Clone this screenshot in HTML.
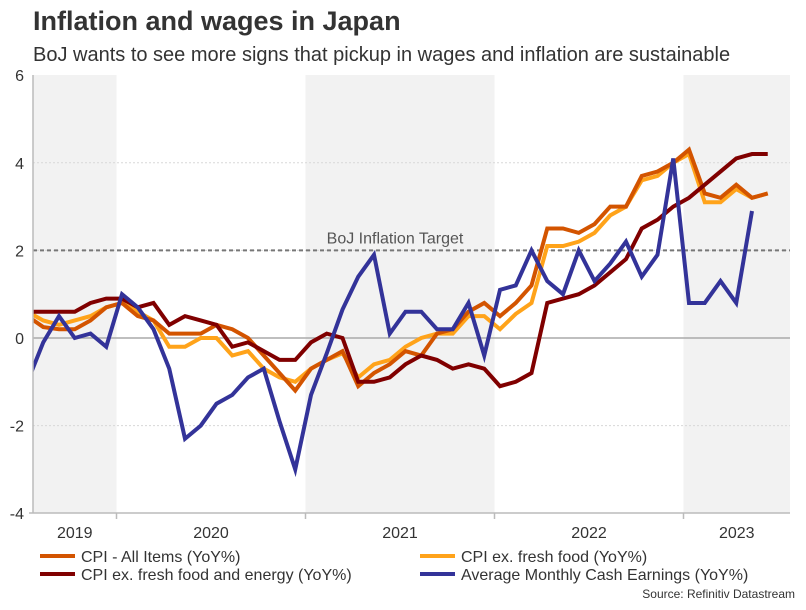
<!DOCTYPE html>
<html><head><meta charset="utf-8"><style>
body{margin:0;background:#fff;font-family:"Liberation Sans",sans-serif;}
svg text{font-family:"Liberation Sans",sans-serif;}
</style></head><body>
<svg id="chart" width="806" height="605" viewBox="0 0 806 605" xmlns="http://www.w3.org/2000/svg">
<text x="33" y="30" font-size="27" font-weight="bold" fill="#333">Inflation and wages in Japan</text>
<text x="33" y="61" font-size="20" fill="#333">BoJ wants to see more signs that pickup in wages and inflation are sustainable</text>
<g id="bands"></g>
<g id="grid"></g>
<g id="series"></g>
<g id="axes"></g>
<g id="legend"></g>
<text x="795" y="598" font-size="12" fill="#333" text-anchor="end">Source: Refinitiv Datastream</text>
</svg>
<script>
const cpiAll = [0.5,0.25,0.2,0.2,0.4,0.7,0.8,0.5,0.4,0.1,0.1,0.1,0.3,0.2,0.0,-0.4,-0.8,-1.2,-0.7,-0.5,-0.3,-1.1,-0.8,-0.6,-0.3,-0.4,0.1,0.2,0.6,0.8,0.5,0.8,1.2,2.5,2.5,2.4,2.6,3.0,3.0,3.7,3.8,4.0,4.3,3.3,3.2,3.5,3.2,3.3];
const cpiCore = [0.6,0.4,0.3,0.4,0.5,0.7,0.8,0.6,0.4,-0.2,-0.2,0.0,0.0,-0.4,-0.3,-0.7,-0.9,-1.0,-0.7,-0.5,-0.35,-0.9,-0.6,-0.5,-0.2,0.0,0.1,0.1,0.5,0.5,0.2,0.55,0.8,2.1,2.1,2.2,2.4,2.8,3.0,3.6,3.7,4.0,4.2,3.1,3.1,3.4,3.2,3.3];
const cpiCoreCore = [0.6,0.6,0.6,0.6,0.8,0.9,0.9,0.7,0.8,0.3,0.5,0.4,0.3,-0.2,-0.1,-0.3,-0.5,-0.5,-0.1,0.1,0.0,-1.0,-1.0,-0.9,-0.6,-0.4,-0.5,-0.7,-0.6,-0.7,-1.1,-1.0,-0.8,0.8,0.9,1.0,1.2,1.5,1.8,2.5,2.7,3.0,3.2,3.5,3.8,4.1,4.2,4.2];
const wages = [-1.0,-0.1,0.5,0.0,0.1,-0.2,1.0,0.7,0.2,-0.7,-2.3,-2.0,-1.5,-1.3,-0.9,-0.7,-1.9,-3.0,-1.3,-0.35,0.65,1.4,1.9,0.1,0.6,0.6,0.2,0.2,0.8,-0.4,1.1,1.2,2.0,1.3,1.0,2.0,1.3,1.7,2.2,1.4,1.9,4.1,0.8,0.8,1.3,0.8,2.9];
const yTicks = [-4,-2,0,2,4,6];
const yearLabels = ["2019","2020","2021","2022","2023"];
const yearStartIdx = [0,6,18,30,42];
const target = 2;

const NS="http://www.w3.org/2000/svg";
const L=33,R=790,T=75,B=513;
function X(i){return 27.5+15.75*i;}
function Y(v){return 338-v*43.8;}
function bx(i){return X(i)-5.5;}
function mk(tag,attrs,parent){const e=document.createElementNS(NS,tag);for(const k in attrs)e.setAttribute(k,attrs[k]);parent.appendChild(e);return e;}
const svg=document.getElementById('chart');
const defs=mk('defs',{},svg);
const cp=mk('clipPath',{id:'plotclip'},defs);
mk('rect',{x:L,y:T-5,width:R-L,height:B-T+10},cp);

const bands=document.getElementById('bands');
for(let k=0;k<yearStartIdx.length;k++){
  const x0=Math.max(L,bx(yearStartIdx[k]));
  const x1=k+1<yearStartIdx.length?bx(yearStartIdx[k+1]):R;
  if(k%2===0){
    const r=mk('rect',{x:x0,y:T,width:x1-x0,height:B-T,fill:'#f2f2f2'},bands);
    
    
  }
}
const grid=document.getElementById('grid');
const axes=document.getElementById('axes');
yTicks.forEach(v=>{
  if(v!==0&&v!==-4&&v!==6){
    const g=mk('line',{x1:L,x2:R,y1:Y(v),y2:Y(v),stroke:'#d8d8d8','stroke-dasharray':'2,2'},grid);
    
    
  }
  const t=mk('text',{x:24,y:Y(v)+6,'font-size':'16','text-anchor':'end',fill:'#333'},axes);
  t.textContent=v;
  
  
});
mk('line',{x1:L,x2:R,y1:Y(0),y2:Y(0),stroke:'#aaa','stroke-width':1.5},grid);
const tl=mk('line',{x1:L,x2:R,y1:Y(target),y2:Y(target),stroke:'#777','stroke-width':2,'stroke-dasharray':'4,3'},grid);


const tt=mk('text',{x:395,y:Y(target)-7,'font-size':'16','text-anchor':'middle',fill:'#555'},grid);
tt.textContent='BoJ Inflation Target';


mk('line',{x1:L,x2:L,y1:T,y2:B,stroke:'#bbb','stroke-width':1.5},axes);
mk('line',{x1:L,x2:R,y1:B,y2:B,stroke:'#bbb','stroke-width':1.5},axes);
mk('line',{x1:29,x2:L,y1:B,y2:B,stroke:'#bbb','stroke-width':1.5},axes);
for(let k=0;k<yearStartIdx.length;k++){
  const x0=Math.max(L,bx(yearStartIdx[k]));
  const x1=k+1<yearStartIdx.length?bx(yearStartIdx[k+1]):R;
  if(k>0) mk('line',{x1:x0,x2:x0,y1:B,y2:B+6,stroke:'#bbb','stroke-width':1.5},axes);
  const t=mk('text',{x:(x0+x1)/2,y:538,'font-size':'16','text-anchor':'middle',fill:'#333'},axes);
  t.textContent=yearLabels[k];
  
  
}
const ser=document.getElementById('series');
ser.setAttribute('clip-path','url(#plotclip)');
function line(data,color,name){
  const p=mk('polyline',{points:data.map((v,i)=>X(i)+','+Y(v)).join(' '),fill:'none',stroke:color,'stroke-width':4,'stroke-linejoin':'miter'},ser);
  
  
}
line(cpiCore,'#ffa31a','line-cpi-ex-fresh-food');
line(cpiAll,'#d35400','line-cpi-all-items');
line(cpiCoreCore,'#800000','line-cpi-ex-fresh-food-energy');
line(wages,'#333399','line-average-cash-earnings');

const leg=document.getElementById('legend');
const items=[["CPI - All Items (YoY%)",'#d35400',40,556],["CPI ex. fresh food (YoY%)",'#ffa31a',420,556],["CPI ex. fresh food and energy (YoY%)",'#800000',40,574],["Average Monthly Cash Earnings (YoY%)",'#333399',420,574]];
items.forEach(it=>{
  const g=mk('g',{},leg);
  
  
  mk('line',{x1:it[2],x2:it[2]+35,y1:it[3],y2:it[3],stroke:it[1],'stroke-width':4},g);
  const t=mk('text',{x:it[2]+41,y:it[3]+6,'font-size':'16',fill:'#333'},g);
  t.textContent=it[0];
});
</script>
</body></html>
